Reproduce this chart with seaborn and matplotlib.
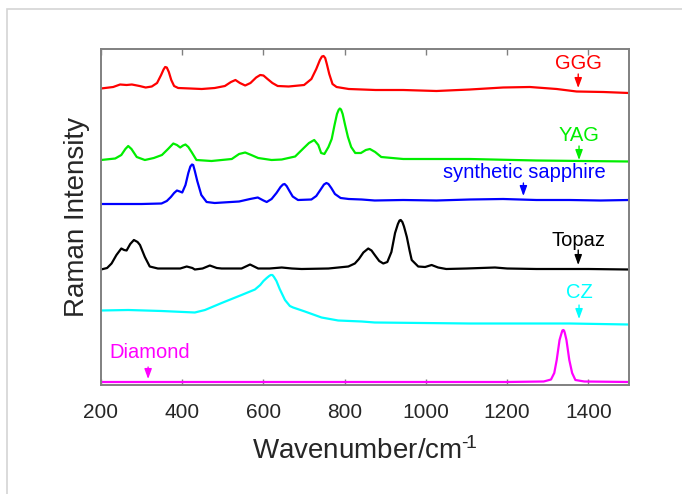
import numpy as np
import pandas as pd
import matplotlib
matplotlib.use("Agg")
import matplotlib.pyplot as plt
import seaborn as sns
from matplotlib.patches import Rectangle

# spectra (intensity in stacked, offset units)
wn_ggg = [200, 230, 247, 263, 276, 295, 310, 325, 338, 348, 354, 358, 362, 367, 373, 380, 390,
          420, 448, 480, 505, 520, 531, 542, 555, 568, 582, 592, 600, 610, 622, 635, 662, 700,
          718, 730, 739, 744, 748, 752, 756, 762, 770, 780, 810, 876, 944, 1026, 1108, 1190,
          1256, 1322, 1371, 1437, 1500]
int_ggg = [296.5, 298, 300.5, 300, 300.5, 299, 297.5, 298.5, 302, 310, 315.5, 318, 317.5, 313,
           305, 299, 297, 296.5, 296, 297, 299, 303, 305, 302, 299.5, 302, 307.5, 310, 309.5,
           306, 302, 299, 298.5, 300, 306, 316, 325, 328.5, 329, 327, 321, 311, 301, 298, 296,
           295, 295, 294, 295.5, 297.5, 298, 296, 293.5, 293, 292]

wn_yag = [200, 235, 250, 260, 267, 275, 288, 308, 330, 350, 365, 378, 387, 395, 402, 408, 415,
          423, 435, 472, 522, 540, 555, 570, 587, 620, 645, 678, 698, 712, 725, 735, 742, 750,
          760, 768, 775, 781, 785, 788, 791, 795, 801, 808, 816, 826, 840, 852, 862, 875, 890,
          944, 1108, 1272, 1500]
int_yag = [225, 226.5, 230, 236, 239, 236, 228, 225, 227, 230, 236, 241.5, 240, 237.5, 239.5,
           240.5, 238, 233, 225, 224, 226, 231, 232.5, 230, 227, 225, 225.5, 228.5, 236.5, 242,
           245, 240, 232, 231, 238, 246, 260, 271, 275, 276.5, 275.5, 271, 260, 248, 238, 232,
           232, 235, 236, 233, 228, 226, 226, 224.5, 223.5]

wn_sap = [200, 300, 349, 362, 372, 380, 387, 394, 400, 408, 415, 420, 424, 427, 431, 437, 447,
          460, 480, 540, 567, 586, 600, 608, 620, 632, 642, 648, 652, 657, 664, 672, 685, 718,
          730, 740, 749, 755, 760, 767, 776, 790, 810, 842, 874, 944, 1026, 1108, 1190, 1272,
          1354, 1430, 1500]
int_sap = [181, 181, 181.5, 184, 188, 192, 194.5, 193.5, 192.5, 200, 212, 218.5, 220.5, 220,
           214, 204, 190, 183, 182, 183.5, 186, 187.5, 184.5, 183, 186, 192, 198, 200.5, 201,
           199, 194, 188.5, 185, 185.5, 189, 195, 200.5, 202, 201, 197, 191, 187, 186, 185.5,
           184.5, 185, 184.5, 185.5, 186, 185, 185, 184.5, 185]

wn_topaz = [200, 215, 226, 238, 250, 257, 263, 272, 281, 290, 296, 308, 320, 340, 365, 395, 411,
            425, 431, 450, 468, 485, 497, 546, 567, 587, 615, 645, 670, 694, 760, 809, 825, 835,
            846, 858, 866, 874, 885, 895, 905, 915, 924, 931, 935, 938, 942, 946, 953, 960, 965,
            981, 998, 1014, 1030, 1050, 1100, 1170, 1200, 1272, 1400, 1500]
int_topaz = [115.5, 117, 121.5, 130, 136.5, 135, 134.5, 141, 145, 143, 140, 128, 118.5, 116.5,
             116.5, 116.5, 118.5, 117, 115.5, 116.5, 119.5, 117, 116.5, 116.5, 120.5, 116.5,
             116.5, 117.5, 116.5, 116, 116.5, 118.5, 121.5, 126, 132.5, 136.5, 134.5, 130, 124,
             121.5, 123, 133, 152, 161, 164.5, 165, 163, 158.5, 148, 134, 125, 118.5, 118, 120,
             117.5, 116, 116.5, 117.5, 116.5, 116, 116, 115.5]

wn_cz = [200, 267, 349, 431, 456, 497, 546, 579, 592, 600, 608, 614, 618, 622, 626, 632, 640,
         653, 665, 673, 702, 743, 784, 842, 874, 1108, 1354, 1500]
int_cz = [74.5, 75, 74, 72.5, 75, 82, 90, 95.5, 100, 104, 107, 109, 110, 110, 108, 104, 96, 85,
          79, 77.5, 73.5, 67.5, 64.5, 63.5, 62.5, 61.5, 61.5, 60.5]

wn_diamond = [200, 500, 900, 1200, 1290, 1308, 1316, 1322, 1329, 1334, 1336, 1338, 1340, 1342,
              1346, 1353, 1360, 1368, 1390, 1500]
int_diamond = [3, 3, 3, 3, 3.5, 5.5, 12, 25, 45, 52, 54.5, 55, 54.5, 52, 45, 25, 12, 5, 3.5, 3]

names = ["GGG", "YAG", "synthetic sapphire", "Topaz", "CZ", "Diamond"]
colors = ["#ff0000", "#00ee00", "#0000ff", "#000000", "#00ffff", "#ff00ff"]
# label text (x, y) and arrow tail/tip heights
label_x = [1375, 1377, 1242, 1375, 1377, 321]
label_y = [322, 250, 213, 145, 92, 32]
arrow_x = [1375, 1377, 1240, 1375, 1377, 316]
arrow_top = [311, 239, 202, 135, 80, 18]
arrow_tip = [297, 225, 189, 120, 66, 6]

wns = [wn_ggg, wn_yag, wn_sap, wn_topaz, wn_cz, wn_diamond]
ints = [int_ggg, int_yag, int_sap, int_topaz, int_cz, int_diamond]
df = pd.concat([pd.DataFrame({"wn": w, "I": i, "sample": n})
                for w, i, n in zip(wns, ints, names)], ignore_index=True)

sns.set_style("white")
plt.rcParams["font.family"] = ["Liberation Sans", "DejaVu Sans"]
plt.rcParams["mathtext.default"] = "regular"

fig = plt.figure(figsize=(6.82, 4.94), dpi=100)
# light grey panel border
fig.patches.append(Rectangle((7 / 682, -0.2), 1.2, 1.2 - 9 / 494, transform=fig.transFigure,
                             fill=False, edgecolor="#d4d4d4", lw=1.2))
ax = fig.add_axes([101 / 682, 1 - 385 / 494, 528 / 682, 336 / 494])

sns.lineplot(data=df, x="wn", y="I", hue="sample", palette=dict(zip(names, colors)),
             estimator=None, sort=True, lw=1.6, legend=False, ax=ax)

for n, c, tx, ty, axx, a0, a1 in zip(names, colors, label_x, label_y, arrow_x, arrow_top, arrow_tip):
    ax.text(tx, ty, n, color=c, fontsize=14.5, ha="center", va="center")
    ax.annotate("", xy=(axx, a1), xytext=(axx, a0),
                arrowprops=dict(arrowstyle="-|>,head_width=0.22,head_length=0.6",
                                color=c, lw=1, shrinkA=0, shrinkB=0))

ax.set_xlim(200, 1500)
ax.set_ylim(0, 336)
ax.set_xticks([200, 400, 600, 800, 1000, 1200, 1400])
ax.set_yticks([])
ax.tick_params(axis="x", direction="in", length=4, width=1, color="#808080",
               top=True, bottom=True, labelsize=15, pad=13)
for s in ax.spines.values():
    s.set_color("#808080")
    s.set_linewidth(1.4)
ax.set_xlabel("Wavenumber/cm$^{\u2010\\!1}$", fontsize=20, labelpad=11)
ax.set_ylabel("Raman Intensity", fontsize=20, labelpad=8)

fig.savefig("out.png", dpi=100)
